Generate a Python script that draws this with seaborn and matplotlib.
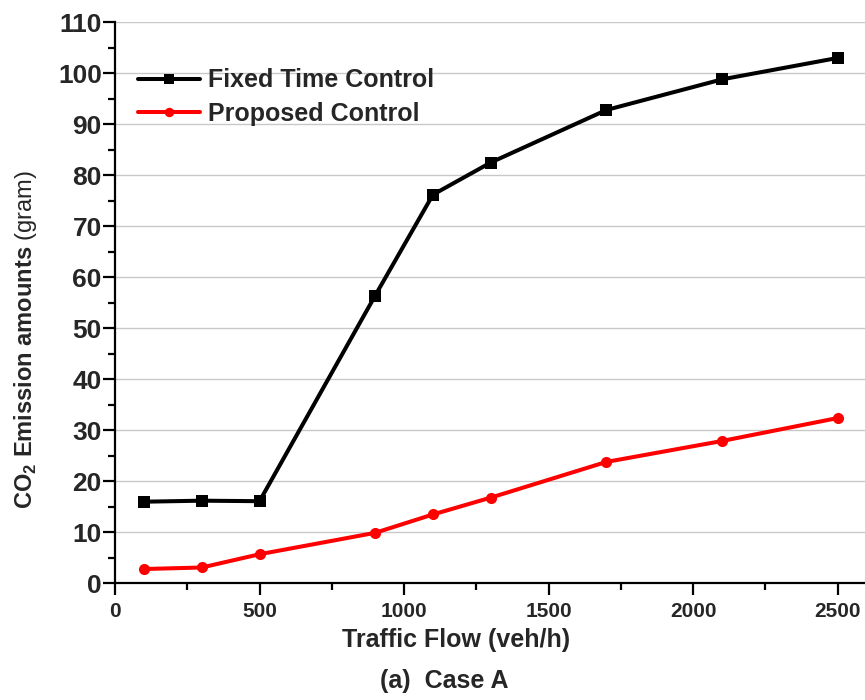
import pandas as pd
import matplotlib.pyplot as plt
from matplotlib.ticker import MultipleLocator
import seaborn as sns

# data
flow = [100, 300, 500, 900, 1100, 1300, 1700, 2100, 2500]
fixed_time = [16.0, 16.2, 16.1, 56.4, 76.2, 82.5, 92.8, 98.8, 103.0]
proposed = [2.8, 3.1, 5.7, 9.9, 13.5, 16.8, 23.8, 27.9, 32.4]
series_names = ["Fixed Time Control", "Proposed Control"]

df = pd.concat([
    pd.DataFrame({"flow": flow, "co2": fixed_time, "method": series_names[0]}),
    pd.DataFrame({"flow": flow, "co2": proposed, "method": series_names[1]}),
])

sns.set_style("white")
plt.rcParams['font.family'] = ['Liberation Sans', 'DejaVu Sans']
plt.rcParams['font.weight'] = 'bold'
plt.rcParams['mathtext.fontset'] = 'custom'
plt.rcParams['mathtext.rm'] = 'Liberation Sans:weight=normal'
plt.rcParams['mathtext.bf'] = 'Liberation Sans:bold'

fig = plt.figure(figsize=(8.65, 7), dpi=100)
ax = fig.add_axes([0.133, 0.1667, 0.867, 0.8015])

sns.lineplot(data=df, x="flow", y="co2", hue="method", style="method",
             palette={series_names[0]: "black", series_names[1]: "red"},
             markers={series_names[0]: "s", series_names[1]: "o"},
             dashes=False, linewidth=2.9, markersize=8, markeredgewidth=0,
             ax=ax)

ax.set_xlim(0, 2595)
ax.set_ylim(0, 110)
ax.xaxis.set_major_locator(MultipleLocator(500))
ax.xaxis.set_minor_locator(MultipleLocator(250))
ax.yaxis.set_major_locator(MultipleLocator(10))
ax.yaxis.set_minor_locator(MultipleLocator(5))
ax.grid(axis="y", color="#c8c8c8", linewidth=1)
ax.grid(axis="x", visible=False)

for side in ["top", "right"]:
    ax.spines[side].set_visible(False)
for side in ["left", "bottom"]:
    ax.spines[side].set_color("black")
    ax.spines[side].set_linewidth(1.6)

ax.tick_params(which="major", direction="out", length=8.5, width=1.6, color="black", bottom=True, left=True)
ax.tick_params(which="minor", direction="out", length=5, width=1.6, color="black", bottom=True, left=True)
ax.tick_params(axis="x", labelsize=15, pad=5)
ax.tick_params(axis="y", labelsize=19, pad=1)

ax.set_xlabel("")
ax.set_ylabel(r"CO$_\mathbf{2}$ Emission amounts $\mathrm{(gram)}$", fontsize=17, fontweight="bold")
ax.yaxis.set_label_coords(-0.102, 0.434)

fig.text(456 / 865, 1 - 640 / 700, "Traffic Flow (veh/h)", ha="center", va="center",
         fontsize=18, fontweight="bold")
fig.text(444 / 865, 1 - 681 / 700, "(a)  Case A", ha="center", va="center",
         fontsize=18, fontweight="bold")

leg = ax.legend(loc="upper left", bbox_to_anchor=(0.0, 0.958), frameon=False,
                fontsize=18, handlelength=2.5, handletextpad=0.3, labelspacing=0.38,
                markerscale=0.85)
for txt in leg.get_texts():
    txt.set_fontweight("bold")

fig.savefig("out.png", dpi=100)
